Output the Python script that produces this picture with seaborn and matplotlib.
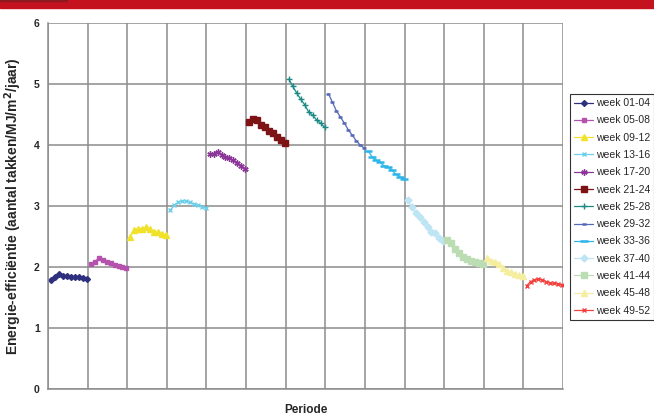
import numpy as np
import pandas as pd
import matplotlib
matplotlib.use("Agg")
import matplotlib.pyplot as plt
import seaborn as sns
from matplotlib.patches import Rectangle

# ---- data -------------------------------------------------------------
labels = ["week 01-04", "week 05-08", "week 09-12", "week 13-16", "week 17-20",
          "week 21-24", "week 25-28", "week 29-32", "week 33-36", "week 37-40",
          "week 41-44", "week 45-48", "week 49-52"]

w01_04 = [1.78, 1.84, 1.89, 1.86, 1.85, 1.84, 1.83, 1.83, 1.82, 1.80]
w05_08 = [2.05, 2.09, 2.14, 2.11, 2.09, 2.07, 2.03, 2.02, 2.00, 1.99]
w09_12 = [2.50, 2.61, 2.63, 2.63, 2.65, 2.62, 2.58, 2.57, 2.54, 2.52]
w13_16 = [2.93, 3.01, 3.06, 3.09, 3.08, 3.06, 3.03, 3.01, 2.99, 2.97]
w17_20 = [3.85, 3.86, 3.89, 3.84, 3.80, 3.78, 3.75, 3.71, 3.66, 3.60]
w21_24 = [4.37, 4.43, 4.41, 4.32, 4.30, 4.23, 4.20, 4.13, 4.09, 4.04]
w25_28 = [5.08, 4.96, 4.85, 4.75, 4.66, 4.54, 4.49, 4.41, 4.36, 4.29]
w29_32 = [4.84, 4.70, 4.56, 4.46, 4.36, 4.25, 4.16, 4.07, 4.00, 3.95]
w33_36 = [3.90, 3.81, 3.75, 3.72, 3.66, 3.64, 3.59, 3.52, 3.48, 3.44]
w37_40 = [3.10, 2.99, 2.89, 2.82, 2.73, 2.65, 2.58, 2.55, 2.47, 2.43]
w41_44 = [2.45, 2.40, 2.29, 2.23, 2.17, 2.13, 2.10, 2.09, 2.07, 2.05]
w45_48 = [2.14, 2.10, 2.09, 2.05, 1.98, 1.94, 1.91, 1.89, 1.87, 1.85]
w49_52 = [1.69, 1.76, 1.79, 1.80, 1.79, 1.76, 1.74, 1.73, 1.72, 1.70]

series = [w01_04, w05_08, w09_12, w13_16, w17_20, w21_24, w25_28,
          w29_32, w33_36, w37_40, w41_44, w45_48, w49_52]

# ---- styles -----------------------------------------------------------
colors = ["#2E2F7F", "#B452AE", "#EFE229", "#6ECFEA", "#8A3597", "#7E1316",
          "#1B8A84", "#5668B8", "#2DB5EA", "#BDE5F4", "#BCDDB3", "#F4EE9E",
          "#F2413E"]
markers = ["D", "s", "^", "x", (6, 2, 0), "s", "+", "_", "_", "D", "s", "^", "x"]
msizes = [3.0, 3.5, 4.5, 3.5, 4.5, 4.5, 4.5, 3.5, 5.5, 3.5, 4.5, 4.5, 3.5]

rows = []
for p, (lab, vals) in enumerate(zip(labels, series)):
    for i, v in enumerate(vals):
        rows.append({"periode": p * 10 + i + 0.8, "waarde": v, "serie": lab})
df = pd.DataFrame(rows)

sns.set_style("white")
plt.rcParams["font.family"] = ["Liberation Sans", "DejaVu Sans"]

fig = plt.figure(figsize=(6.54, 4.17), dpi=100)
ax = fig.add_axes([48 / 654, 1 - 389 / 417, (563 - 48) / 654, (389 - 23) / 417])

for lab, c, m, ms in zip(labels, colors, markers, msizes):
    sub = df[df["serie"] == lab]
    sns.lineplot(data=sub, x="periode", y="waarde", color=c, marker=m,
                 markersize=ms, markeredgecolor=c, markerfacecolor=c,
                 markeredgewidth=1.0 if m not in ("_",) else 1.8,
                 linewidth=0.9, label=lab, ax=ax, sort=False)

ax.set_xlim(0, 130)
ax.set_ylim(0, 6)
ax.set_xticks(np.arange(0, 131, 10))
ax.set_xticklabels([])
ax.set_yticks(range(0, 7))
ax.set_yticklabels([str(v) for v in range(0, 7)], fontsize=7.5, fontweight="bold")
ax.tick_params(axis="x", length=0)
ax.tick_params(axis="y", length=3, width=0.8, color="#8C8C8C", pad=3)
ax.grid(True, color="#8C8C8C", linewidth=1.1)
ax.set_axisbelow(True)
for s in ["top", "right"]:
    ax.spines[s].set_visible(False)
for s in ["left", "bottom"]:
    ax.spines[s].set_color("#8C8C8C")
    ax.spines[s].set_linewidth(1.1)

ax.set_xlabel("Periode", fontsize=8.5, fontweight="bold", labelpad=7)
ax.set_ylabel(r"Energie-efficiëntie (aantal takken/MJ/m$^\mathbf{2}$/jaar)",
              fontsize=10, fontweight="bold", labelpad=7)

leg = ax.legend(loc="upper left", bbox_to_anchor=(570 / 654, 1 - 94 / 417),
                bbox_transform=fig.transFigure, fontsize=7.5, frameon=True,
                fancybox=False, edgecolor="black", handlelength=1.8,
                handletextpad=0.3, labelspacing=0.7, borderpad=0.4,
                borderaxespad=0)
leg.get_frame().set_linewidth(0.8)

# top red band
fig.patches.append(Rectangle((0, 1 - 7.5 / 417), 1, 7.5 / 417,
                             transform=fig.transFigure, color="#C4121F",
                             zorder=10))
fig.patches.append(Rectangle((0, 1 - 1.2 / 417), 67 / 654, 1.2 / 417,
                             transform=fig.transFigure, color="#8E1A20",
                             zorder=11))

fig.savefig("out.png", dpi=100)
